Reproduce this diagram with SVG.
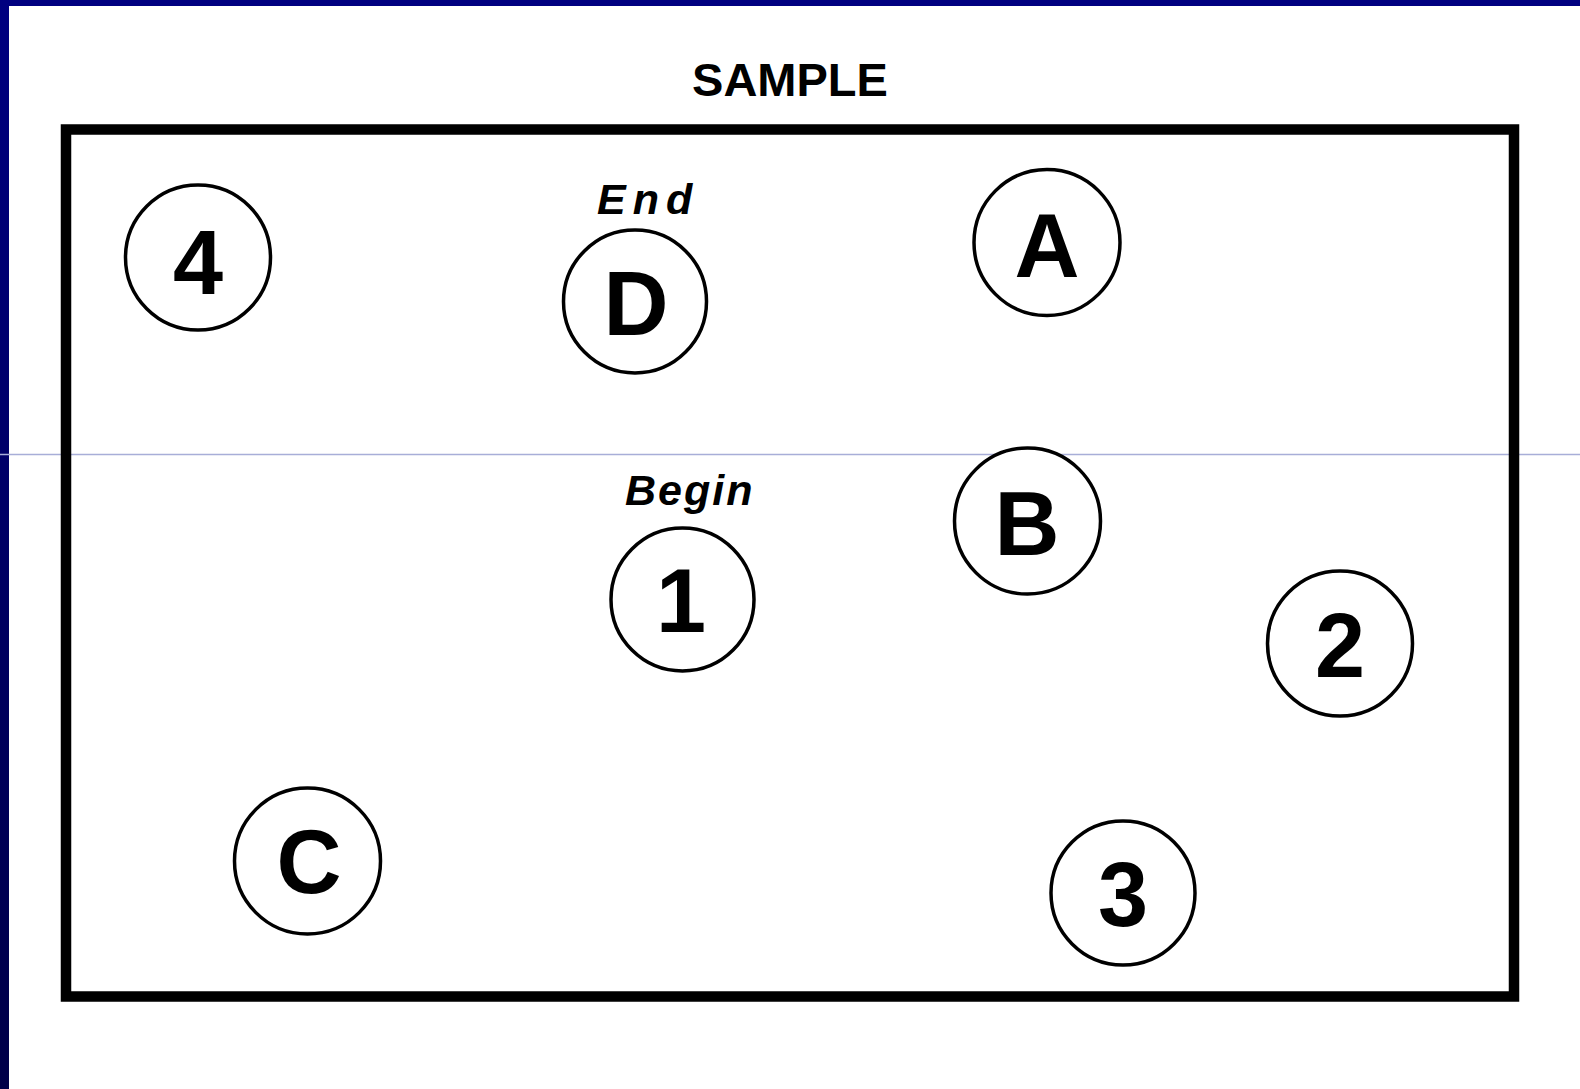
<svg xmlns="http://www.w3.org/2000/svg" width="1580" height="1089" viewBox="0 0 1580 1089">
<defs>
<linearGradient id="lb" x1="0" y1="0" x2="0" y2="1">
<stop offset="0" stop-color="#000080"/>
<stop offset="1" stop-color="#000048"/>
</linearGradient>
<style>
.node circle{fill:#fff;stroke:#000;stroke-width:3.5}
.lbl{font-family:"Liberation Sans",Arial,sans-serif;font-weight:bold;font-size:90px;text-anchor:middle;fill:#000}
.note{font-family:"Liberation Sans",Arial,sans-serif;font-style:italic;font-weight:bold;font-size:43px;fill:#000}
</style>
</defs>
<rect x="0" y="0" width="1580" height="1089" fill="#fff"/>
<rect x="0" y="0" width="1580" height="6" fill="#000080"/>
<rect x="0" y="0" width="9" height="1089" fill="url(#lb)"/>
<line x1="0" y1="454.5" x2="1580" y2="454.5" stroke="#a8aed8" stroke-width="1.5"/>
<text x="790" y="96" font-family="'Liberation Sans',Arial,sans-serif" font-weight="bold" font-size="47" text-anchor="middle" fill="#000">SAMPLE</text>
<rect x="66" y="129.5" width="1448" height="867" fill="none" stroke="#000" stroke-width="10.5"/>
<g id="connectors"></g>
<g id="node-4" class="node"><circle cx="198" cy="257.5" r="72.5"/><text class="lbl" x="198" y="294">4</text></g>
<g id="node-D" class="node"><text class="note" x="597" y="214" letter-spacing="7">End</text><circle cx="635" cy="301.5" r="71.5"/><text class="lbl" x="636" y="335">D</text></g>
<g id="node-A" class="node"><circle cx="1047" cy="242.5" r="73"/><text class="lbl" x="1047" y="277">A</text></g>
<g id="node-1" class="node"><text class="note" x="625" y="505" letter-spacing="2">Begin</text><circle cx="682.5" cy="599.5" r="71.5"/><text class="lbl" x="681" y="632">1</text></g>
<g id="node-B" class="node"><circle cx="1027.5" cy="521" r="73"/><text class="lbl" x="1027" y="555">B</text></g>
<g id="node-2" class="node"><circle cx="1340" cy="643.5" r="72.5"/><text class="lbl" x="1340" y="677">2</text></g>
<g id="node-C" class="node"><circle cx="307.5" cy="861" r="73"/><text class="lbl" x="309" y="893">C</text></g>
<g id="node-3" class="node"><circle cx="1123" cy="893" r="72"/><text class="lbl" x="1123" y="926">3</text></g>
</svg>
